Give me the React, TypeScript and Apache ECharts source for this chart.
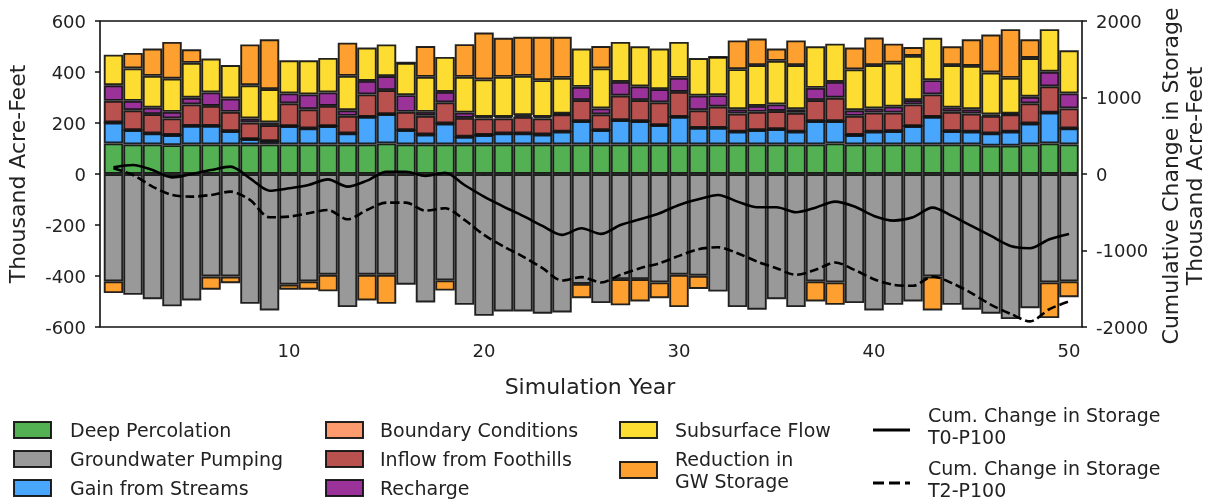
import React, { useEffect, useRef } from "react";
import * as echarts from "echarts";

const years: string[] = Array.from({ length: 50 }, (_, i) => String(i + 1));

const deepPercolation = [120,116,116,113,116,116,116,116,116,116,116,116,116,116,120,116,116,116,116,116,116,116,116,116,116,116,116,116,116,116,116,116,116,116,116,116,116,120,116,116,116,116,116,116,116,111,111,116,120,116];
const groundwaterPumping = [-421,-474,-491,-519,-496,-402,-402,-509,-535,-434,-421,-395,-522,-395,-395,-434,-504,-417,-513,-556,-539,-539,-548,-543,-431,-506,-412,-412,-425,-395,-399,-461,-522,-532,-491,-522,-421,-425,-506,-535,-513,-500,-402,-513,-532,-548,-569,-526,-425,-421];
const gainFromStreams = [82,56,43,40,73,73,52,21,13,72,63,72,43,108,115,56,39,82,30,37,43,43,39,50,91,56,95,91,76,108,65,65,50,56,60,50,91,87,37,50,52,72,108,52,50,48,55,82,121,63];
const boundaryConditions = [0,0,0,0,0,0,0,0,0,0,0,0,0,0,0,0,0,0,0,0,0,0,0,0,0,0,0,0,0,0,0,0,0,0,0,0,0,0,0,0,0,0,0,0,0,0,0,0,0,0];
const inflowFromFoothills = [85,78,76,65,84,78,76,65,63,89,75,79,69,88,94,72,73,83,74,65,59,65,63,68,83,62,96,83,89,98,69,83,71,72,71,74,83,92,75,75,73,85,88,76,71,69,68,79,103,78];
const recharge = [61,37,25,26,26,53,52,16,10,39,58,53,22,53,55,65,16,41,21,6,6,7,6,3,52,23,54,54,52,55,57,45,17,23,26,14,48,62,22,16,23,17,56,16,17,6,3,26,57,59];
const subsurfaceFlow = [120,127,125,130,137,133,131,130,131,130,134,135,135,131,124,127,137,137,140,147,157,154,144,140,150,157,157,157,159,141,148,150,157,160,171,173,163,150,160,170,173,173,166,167,170,164,140,152,167,169];
const reductionGWStorage = [-46,61,107,144,53,-52,-26,160,195,-20,-33,-65,130,-101,-114,0,121,-40,128,184,153,153,170,161,-56,88,-103,-88,-62,-127,-52,0,113,104,48,97,-79,-88,86,108,74,35,-133,74,104,149,191,73,-140,-62];

const cumT0P100 = [87,117,52,-44,0,52,96,-57,-218,-187,-144,-70,-165,-87,30,30,-26,17,-144,-296,-426,-548,-679,-796,-709,-783,-666,-592,-513,-405,-331,-274,-361,-435,-435,-500,-440,-361,-426,-548,-609,-565,-439,-548,-679,-809,-940,-970,-853,-783];
const cumT2P100 = [74,-13,-165,-274,-296,-274,-231,-339,-566,-557,-513,-470,-592,-470,-374,-374,-479,-448,-600,-796,-948,-1079,-1231,-1392,-1348,-1418,-1318,-1231,-1166,-1070,-983,-957,-1035,-1144,-1231,-1318,-1253,-1157,-1253,-1375,-1448,-1461,-1340,-1427,-1557,-1710,-1827,-1927,-1766,-1666];

const xTickEvery = 10;

const barSeriesDefs: [string, number[], string][] = [
  ["Deep Percolation", deepPercolation, "#53b153"],
  ["Groundwater Pumping", groundwaterPumping, "#999999"],
  ["Gain from Streams", gainFromStreams, "#48a6fc"],
  ["Boundary Conditions", boundaryConditions, "#fd9a6e"],
  ["Inflow from Foothills", inflowFromFoothills, "#b9524f"],
  ["Recharge", recharge, "#9a329a"],
  ["Subsurface Flow", subsurfaceFlow, "#fedd33"],
  ["Reduction in GW Storage", reductionGWStorage, "#fea030"],
];

const FONT = "DejaVu Sans";
const LEG = 19;
const TITLE = 22;
const EDGE = "rgba(17,17,17,0.92)";

function legendPatch(x: number, y: number, color: string) {
  return {
    type: "rect",
    shape: { x, y: y - 8, width: 37, height: 16 },
    style: { fill: color, stroke: EDGE, lineWidth: 2 },
  };
}
function legendText(x: number, y: number, text: string) {
  return {
    type: "text",
    x,
    y,
    style: { text, font: `${LEG}px "${FONT}"`, fill: "#222", textVerticalAlign: "middle", textAlign: "left" },
  };
}

export default function App() {
  const ref = useRef<HTMLDivElement>(null);
  useEffect(() => {
    if (!ref.current) return;
    const chart = echarts.init(ref.current, null, { renderer: "svg" });
    const barSeries = barSeriesDefs.map(([name, vals, color]) => ({
      name,
      type: "bar",
      stack: "budget",
      barWidth: 19.5,
      data: vals,
      itemStyle: { color, borderColor: EDGE, borderWidth: 1.9 },
    }));
    const lineSeries = [
      {
        name: "Cum. Change in Storage T0-P100",
        type: "line",
        yAxisIndex: 1,
        smooth: 0.3,
        symbol: "none",
        data: cumT0P100,
        lineStyle: { color: "#000", width: 2.6 },
        z: 5,
      },
      {
        name: "Cum. Change in Storage T2-P100",
        type: "line",
        yAxisIndex: 1,
        smooth: 0.3,
        symbol: "none",
        data: cumT2P100,
        lineStyle: { color: "#000", width: 2.6, type: [9, 4] },
        z: 5,
      },
    ];
    const labelStyle = { fontFamily: FONT, fontSize: 18, color: "#222" };
    const tickStyle = { show: true, length: 5, lineStyle: { color: "#111", width: 1.5 } };
    const showEvery = (i: number) => (i + 1) % xTickEvery === 0;
    chart.setOption({
      animation: false,
      grid: { left: 103.75, right: 130.25, top: 21, height: 306, show: false },
      xAxis: {
        type: "category",
        data: years,
        boundaryGap: true,
        axisLine: { show: false },
        splitLine: { show: false },
        axisTick: { ...tickStyle, alignWithLabel: true, interval: showEvery },
        axisLabel: { ...labelStyle, margin: 14, interval: showEvery },
      },
      yAxis: [
        {
          type: "value",
          min: -600,
          max: 600,
          interval: 200,
          offset: 3.75,
          axisLine: { show: false },
          splitLine: { show: false },
          axisTick: tickStyle,
          axisLabel: { ...labelStyle, margin: 14 },
        },
        {
          type: "value",
          min: -2000,
          max: 2000,
          interval: 1000,
          offset: 3.25,
          position: "right",
          axisLine: { show: false },
          splitLine: { show: false },
          axisTick: tickStyle,
          axisLabel: { ...labelStyle, margin: 14, formatter: (v: number) => String(v) },
        },
      ],
      series: [...barSeries, ...lineSeries],
      graphic: [
        {
          type: "rect",
          shape: { x: 100, y: 21, width: 982, height: 306 },
          style: { fill: "none", stroke: "#111", lineWidth: 1.6 },
          z: 100,
        },
        {
          type: "text",
          x: 17,
          y: 174,
          rotation: Math.PI / 2,
          style: { text: "Thousand Acre-Feet", font: `${TITLE}px "${FONT}"`, fill: "#222", textAlign: "center", textVerticalAlign: "middle" },
        },
        {
          type: "text",
          x: 1170,
          y: 176,
          rotation: Math.PI / 2,
          style: { text: "Cumulative Change in Storage", font: `${TITLE}px "${FONT}"`, fill: "#222", textAlign: "center", textVerticalAlign: "middle" },
        },
        {
          type: "text",
          x: 1194,
          y: 176,
          rotation: Math.PI / 2,
          style: { text: "Thousand Acre-Feet", font: `${TITLE}px "${FONT}"`, fill: "#222", textAlign: "center", textVerticalAlign: "middle" },
        },
        {
          type: "text",
          x: 590,
          y: 386,
          style: { text: "Simulation Year", font: `${TITLE}px "${FONT}"`, fill: "#222", textAlign: "center", textVerticalAlign: "middle" },
        },
        legendPatch(14, 430, "#53b153"),
        legendText(70, 430, "Deep Percolation"),
        legendPatch(14, 459, "#999999"),
        legendText(70, 459, "Groundwater Pumping"),
        legendPatch(14, 488, "#48a6fc"),
        legendText(70, 488, "Gain from Streams"),
        legendPatch(326, 430, "#fd9a6e"),
        legendText(380, 430, "Boundary Conditions"),
        legendPatch(326, 459, "#b9524f"),
        legendText(380, 459, "Inflow from Foothills"),
        legendPatch(326, 488, "#9a329a"),
        legendText(380, 488, "Recharge"),
        legendPatch(620, 430, "#fedd33"),
        legendText(675, 430, "Subsurface Flow"),
        legendPatch(620, 470, "#fea030"),
        legendText(675, 459, "Reduction in"),
        legendText(675, 481, "GW Storage"),
        {
          type: "line",
          shape: { x1: 873, y1: 430, x2: 910, y2: 430 },
          style: { stroke: "#000", lineWidth: 3 },
        },
        legendText(928, 415, "Cum. Change in Storage"),
        legendText(928, 437, "T0-P100"),
        {
          type: "line",
          shape: { x1: 873, y1: 483, x2: 910, y2: 483 },
          style: { stroke: "#000", lineWidth: 3, lineDash: [11, 5] },
        },
        legendText(928, 468, "Cum. Change in Storage"),
        legendText(928, 490, "T2-P100"),
      ],
    });
    return () => chart.dispose();
  }, []);
  return <div ref={ref} style={{ position: "fixed", left: 0, top: 0, width: 1209, height: 502 }} />;
}
